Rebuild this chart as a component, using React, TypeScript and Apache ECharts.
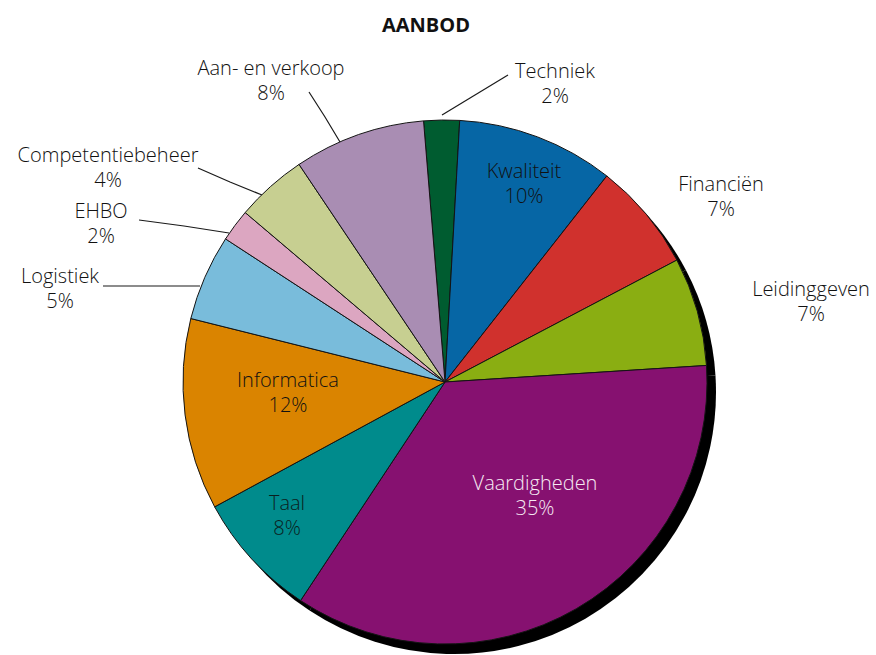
import React, { useEffect, useRef } from 'react';
import * as echarts from 'echarts';

const chartTitle = 'AANBOD';
const categories = [
  'Techniek',
  'Kwaliteit',
  'Financiën',
  'Leidinggeven',
  'Vaardigheden',
  'Taal',
  'Informatica',
  'Logistiek',
  'EHBO',
  'Competentiebeheer',
  'Aan- en verkoop',
];
const shares = [2.2, 9.7, 6.7, 6.7, 35.3, 7.8, 11.8, 5.3, 2.0, 4.4, 8.1];

const sliceColors = [
  '#005c30',
  '#0666a5',
  '#d0312d',
  '#8aae12',
  '#861170',
  '#008b8c',
  '#da8400',
  '#79bcdb',
  '#dca6c1',
  '#c7cf91',
  '#a98db3',
];

// label layout: centre of each two-line label block, optional leader line
type Placement = { x: number; y: number; color: string; line?: number[][] };
const labelPlacement: Record<string, Placement> = {
  Techniek: { x: 555, y: 83, color: '#111111', line: [[442, 115], [475, 95], [508, 75]] },
  Kwaliteit: { x: 524, y: 183, color: '#111111' },
  'Financiën': { x: 721, y: 196, color: '#111111' },
  Leidinggeven: { x: 811, y: 301, color: '#111111' },
  Vaardigheden: { x: 535, y: 495, color: '#f6e9f3' },
  Taal: { x: 287, y: 515, color: '#0a1f1f' },
  Informatica: { x: 288, y: 392, color: '#111111' },
  Logistiek: { x: 60, y: 288, color: '#111111', line: [[200, 286], [150, 286], [103, 286]] },
  EHBO: { x: 101, y: 223, color: '#111111', line: [[229, 233], [184, 226], [139, 220]] },
  Competentiebeheer: { x: 108, y: 167, color: '#111111', line: [[262, 195], [230, 182], [198, 168]] },
  'Aan- en verkoop': { x: 271, y: 80, color: '#111111', line: [[340, 142], [325, 117], [309, 92]] },
};

const FONT = "'Open Sans', 'Noto Sans', sans-serif";
const CENTER = [445, 382];
const RADIUS = 262;
const START_ANGLE = 94.7;

export default function App() {
  const ref = useRef<HTMLDivElement>(null);

  useEffect(() => {
    if (!ref.current) return;
    const chart = echarts.init(ref.current, undefined, { renderer: 'svg' });

    const data = categories.map((name, i) => {
      const p = labelPlacement[name];
      return {
        name,
        value: shares[i],
        itemStyle: { color: sliceColors[i] },
        label: { color: p.color },
        labelLine: { show: !!p.line },
      };
    });

    chart.setOption({
      animation: false,
      backgroundColor: '#ffffff',
      title: {
        text: chartTitle,
        left: 377,
        top: 9,
        textStyle: {
          fontFamily: FONT,
          fontSize: 20,
          fontWeight: 'bold',
          color: '#111111',
        },
      },
      series: [
        {
          type: 'pie',
          name: 'shadow',
          z: 1,
          silent: true,
          center: [CENTER[0] + 9, CENTER[1] + 10],
          radius: RADIUS,
          startAngle: START_ANGLE,
          data: shares.map((v, i) => ({ name: categories[i], value: v })),
          itemStyle: { color: '#000000', borderWidth: 0 },
          label: { show: false },
          labelLine: { show: false },
          emphasis: { disabled: true },
        },
        {
          type: 'pie',
          name: 'aanbod',
          z: 2,
          center: CENTER,
          radius: RADIUS,
          startAngle: START_ANGLE,
          clockwise: true,
          avoidLabelOverlap: false,
          data,
          itemStyle: { borderColor: '#141414', borderWidth: 1 },
          label: {
            show: true,
            position: 'outside',
            fontFamily: FONT,
            fontSize: 20,
            fontWeight: 300,
            lineHeight: 25,
            color: '#111111',
            formatter: (params: any) =>
              `${params.name}\n${Math.round(params.percent)}%`,
          },
          labelLine: {
            show: true,
            length: 10,
            length2: 10,
            smooth: false,
            lineStyle: { color: '#1a1a1a', width: 1.2 },
          },
          labelLayout: (params: any) => {
            const p = labelPlacement[categories[params.dataIndex]];
            const res: any = {
              x: p.x,
              y: p.y,
              align: 'center',
              verticalAlign: 'middle',
            };
            if (p.line) res.labelLinePoints = p.line;
            return res;
          },
          emphasis: { disabled: true },
        },
      ],
    });

    return () => chart.dispose();
  }, []);

  return (
    <div
      ref={ref}
      style={{ position: 'absolute', left: 0, top: 0, width: 876, height: 655 }}
    />
  );
}
